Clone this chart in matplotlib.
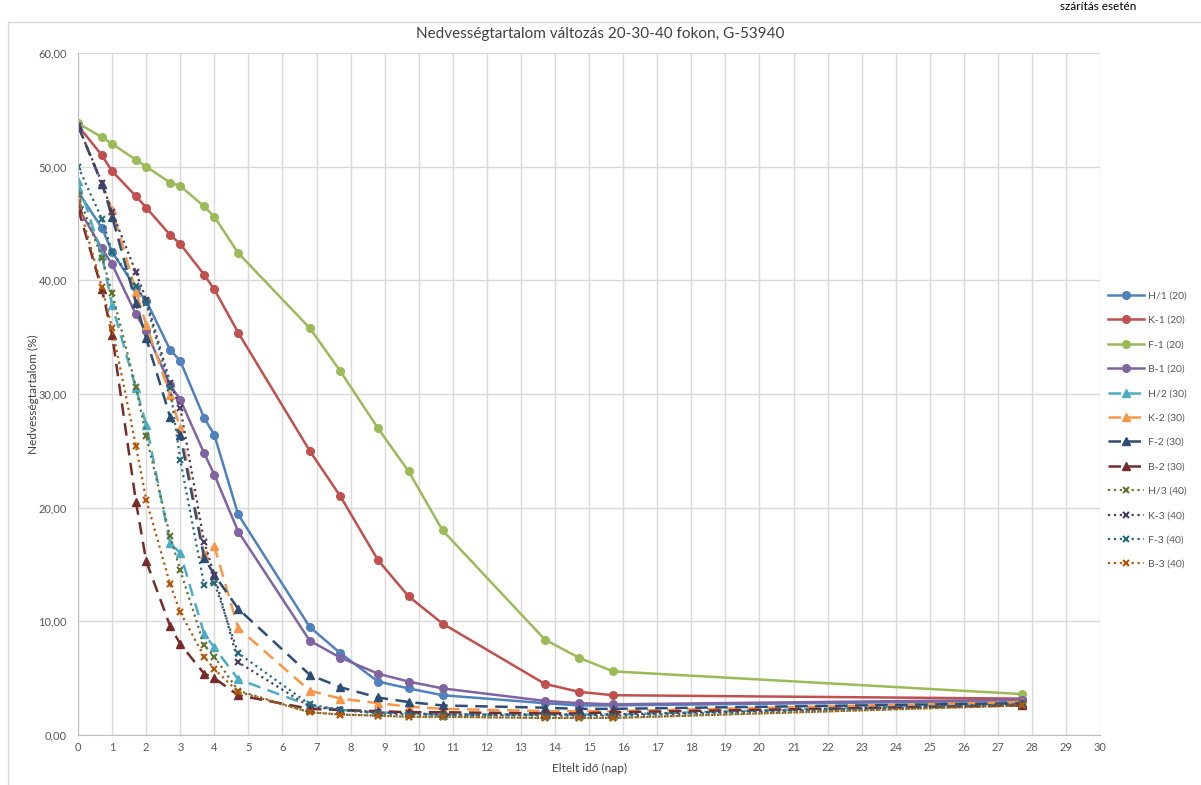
import numpy as np
import matplotlib
matplotlib.use("Agg")
import matplotlib.pyplot as plt
from matplotlib.ticker import FuncFormatter, MultipleLocator

plt.rcParams['font.family'] = ['Lato', 'DejaVu Sans']

# elapsed days
days = [0, 0.7, 1, 1.7, 2, 2.7, 3, 3.7, 4, 4.7, 6.8, 7.7, 8.8, 9.7, 10.7, 13.7, 14.7, 15.7, 27.7]

# moisture content (%) per sample
h1 = [47.8, 44.6, 42.5, 39.3, 38.2, 33.9, 32.9, 27.9, 26.4, 19.4, 9.5, 7.2, 4.7, 4.1, 3.5, 2.8, 2.6, 2.6, 3.0]
k1 = [53.6, 51.0, 49.6, 47.4, 46.4, 44.0, 43.2, 40.5, 39.2, 35.4, 25.0, 21.0, 15.4, 12.2, 9.8, 4.5, 3.8, 3.5, 3.2]
f1 = [53.8, 52.6, 52.0, 50.6, 50.0, 48.6, 48.3, 46.5, 45.6, 42.4, 35.8, 32.0, 27.0, 23.2, 18.0, 8.4, 6.8, 5.6, 3.6]
b1 = [46.4, 42.8, 41.4, 37.0, 35.5, 30.8, 29.5, 24.8, 22.9, 17.9, 8.3, 6.8, 5.4, 4.7, 4.1, 3.0, 2.8, 2.7, 3.1]
h2 = [48.7, 42.2, 37.8, 30.5, 27.3, 16.9, 16.0, 8.9, 7.7, 4.9, 2.6, 2.2, 2.0, 1.9, 1.8, 1.8, 1.8, 1.8, 2.8]
k2 = [53.6, 48.5, 46.2, 39.0, 36.1, 29.9, 27.0, 15.9, 16.6, 9.4, 3.9, 3.2, 2.8, 2.5, 2.3, 2.1, 2.1, 2.1, 2.9]
f2 = [53.6, 48.5, 45.6, 38.0, 34.9, 28.0, 26.4, 15.6, 14.1, 11.1, 5.3, 4.2, 3.3, 2.9, 2.6, 2.4, 2.3, 2.3, 2.8]
b2 = [46.3, 39.2, 35.2, 20.5, 15.3, 9.6, 8.0, 5.4, 5.0, 3.5, 2.3, 2.2, 2.1, 2.0, 2.0, 1.9, 1.9, 2.0, 2.6]
h3 = [47.5, 42.0, 38.9, 30.6, 26.3, 17.5, 14.5, 7.9, 6.9, 3.9, 2.0, 1.8, 1.7, 1.6, 1.6, 1.5, 1.5, 1.5, 2.6]
k3 = [53.6, 48.6, 46.0, 40.7, 38.3, 31.0, 28.8, 17.0, 14.1, 6.4, 2.5, 2.2, 2.0, 1.9, 1.8, 1.8, 1.8, 1.8, 2.7]
f3 = [50.0, 45.4, 42.5, 39.5, 38.0, 30.5, 24.2, 13.2, 13.4, 7.2, 2.7, 2.2, 1.9, 1.8, 1.8, 1.7, 1.7, 1.7, 2.7]
b3 = [46.9, 39.4, 35.8, 25.4, 20.7, 13.3, 10.8, 6.9, 5.8, 3.8, 2.0, 1.8, 1.7, 1.6, 1.6, 1.5, 1.5, 1.5, 2.6]

series = [
    ('H/1 (20)', h1, '#4F81BD', '-', 'o'),
    ('K-1 (20)', k1, '#C0504D', '-', 'o'),
    ('F-1 (20)', f1, '#9BBB59', '-', 'o'),
    ('B-1 (20)', b1, '#8064A2', '-', 'o'),
    ('H/2 (30)', h2, '#4BACC6', (0, (5, 3)), '^'),
    ('K-2 (30)', k2, '#F79646', (0, (5, 3)), '^'),
    ('F-2 (30)', f2, '#2C4D75', (0, (5, 3)), '^'),
    ('B-2 (30)', b2, '#772C2A', (0, (5, 3)), '^'),
    ('H/3 (40)', h3, '#5F7530', ':', 'x'),
    ('K-3 (40)', k3, '#4D3B62', ':', 'x'),
    ('F-3 (40)', f3, '#276A7C', ':', 'x'),
    ('B-3 (40)', b3, '#B65708', ':', 'x'),
]

fig = plt.figure(figsize=(12.01, 7.85), dpi=100)
ax = fig.add_axes([0.065, 0.0637, 0.851, 0.8688])

for label, vals, color, ls, mk in series:
    if mk == 'x':
        ax.plot(days, vals, color=color, linestyle=ls, linewidth=1.6, marker='x',
                markersize=4.5, markeredgewidth=1.5, label=label)
    elif mk == '^':
        ax.plot(days, vals, color=color, linestyle=ls, linewidth=1.8, marker='^',
                markersize=5.5, label=label)
    else:
        ax.plot(days, vals, color=color, linestyle=ls, linewidth=1.8, marker='o',
                markersize=5.5, label=label)

ax.set_xlim(0, 30)
ax.set_ylim(0, 60)
ax.xaxis.set_major_locator(MultipleLocator(1))
ax.yaxis.set_major_locator(MultipleLocator(10))
ax.yaxis.set_major_formatter(FuncFormatter(lambda v, p: f"{v:.2f}".replace('.', ',')))
ax.grid(True, color='#D9D9D9', linewidth=1)
ax.set_axisbelow(True)
for s in ['top', 'right']:
    ax.spines[s].set_visible(False)
for s in ['left', 'bottom']:
    ax.spines[s].set_color('#BFBFBF')
ax.tick_params(axis='both', length=0, labelsize=8, colors='#595959', pad=5)
ax.tick_params(axis='y', pad=8)

ax.set_xlabel('Eltelt idő (nap)', fontsize=8.5, color='#404040', labelpad=7)
ax.set_ylabel('Nedvességtartalom (%)', fontsize=8.5, color='#404040')
ax.yaxis.set_label_coords(-0.0386, 0.5)
fig.suptitle('Nedvességtartalom változás 20-30-40 fokon, G-53940', x=0.5, y=0.965,
             fontsize=11, color='#404040')

fig.legend(loc='center left', bbox_to_anchor=(0.915, 0.452), frameon=False,
           fontsize=7.5, handlelength=3.4, labelspacing=1.45, handletextpad=0.4,
           labelcolor='#595959')

# chart area border and the small note above it
fig.add_artist(plt.Line2D([8 / 1201, 1], [1 - 22 / 785, 1 - 22 / 785],
                          transform=fig.transFigure, color='#D9D9D9', linewidth=1))
fig.add_artist(plt.Line2D([8 / 1201, 8 / 1201], [0, 1 - 22 / 785],
                          transform=fig.transFigure, color='#D9D9D9', linewidth=1))
fig.text(1060 / 1201, 0.999, 'szárítás esetén', fontsize=8.5, va='top', ha='left', color='black')

fig.savefig('out.png', dpi=100)
